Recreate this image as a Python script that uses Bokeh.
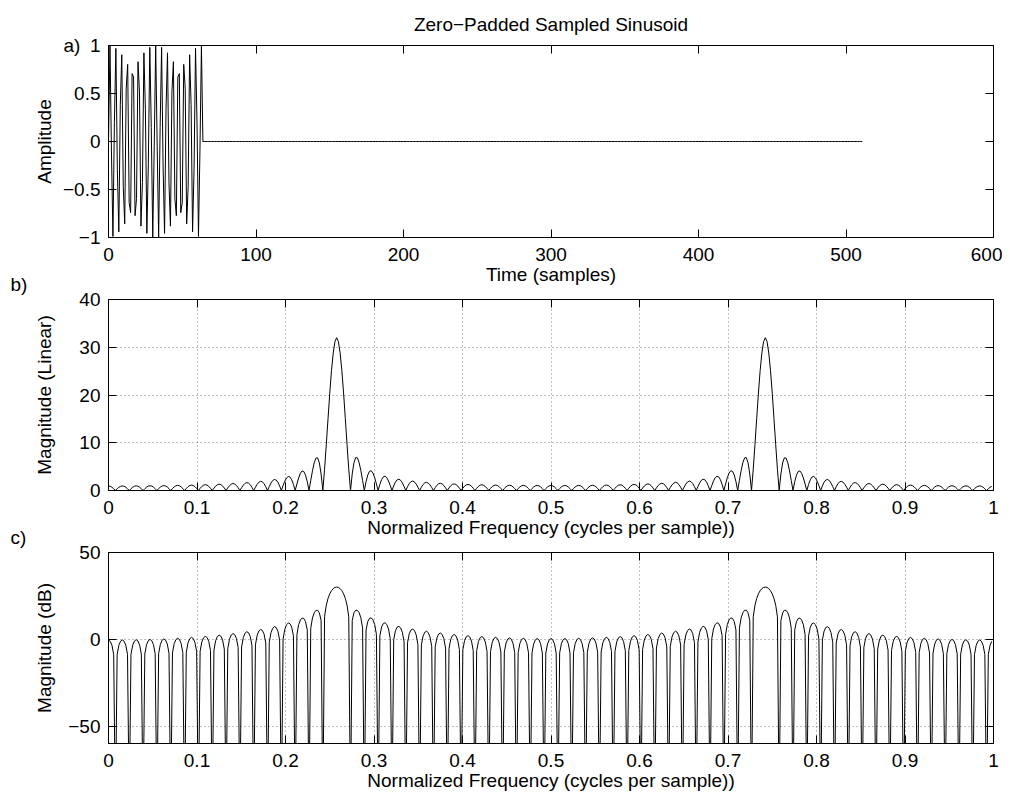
import numpy as np
from bokeh.plotting import figure
from bokeh.layouts import column
from bokeh.models import LinearAxis, Range1d, FixedTicker, CustomJSTickFormatter, CustomLabelingPolicy
from bokeh.embed import file_html
from bokeh.resources import INLINE

# ---- values ----
N_SAMPLES = 64            # non-zero samples in panel a
NFFT = 512                # total length after zero padding (line ends at 511)
SIG_FREQ = 0.2578125      # peak position in panels b/c (cycles per sample)
DB_FLOOR = -60

TIME_TICKS = [0, 100, 200, 300, 400, 500, 600]
AMP_TICKS = [-1, -0.5, 0, 0.5, 1]
FREQ_TICKS = [0, 0.1, 0.2, 0.3, 0.4, 0.5, 0.6, 0.7, 0.8, 0.9, 1]
LIN_TICKS = [0, 10, 20, 30, 40]
DB_TICKS = [-50, 0, 50]

TITLE = "Zero\u2212Padded Sampled Sinusoid"
XLABEL_A = "Time (samples)"
XLABEL_F = "Normalized Frequency (cycles per sample))"
YLABEL_A = "Amplitude"
YLABEL_B = "Magnitude (Linear)"
YLABEL_C = "Magnitude (dB)"
PANEL_TAGS = ["a)", "b)", "c)"]

# ---- signal and spectrum ----
n = np.arange(N_SAMPLES)
sig = np.concatenate([np.sin(2 * np.pi * SIG_FREQ * n), np.zeros(NFFT - N_SAMPLES)])
t = np.arange(NFFT)
spec = np.fft.fft(sig)
mag = np.abs(spec)
mag_db = 20 * np.log10(np.maximum(mag, 1e-6))
fn = np.arange(NFFT) / NFFT

FONT = "Liberation Sans"
FS = "19px"
TICK_LEN = 8
FRAME_W = 885

NO_LABELS = CustomLabelingPolicy(
    code="const all = []; for (const i of indices) all.push(i); "
         "for (const i of all) indices.unset(i); return indices;")


def make_fmt(tag=None, tag_at=None):
    if tag is None:
        code = "return (tick < 0 ? '\\u2212' : '') + Math.abs(tick).toString();"
    else:
        code = ("var s = (tick < 0 ? '\\u2212' : '') + Math.abs(tick).toString();"
                "if (tick == %s) { s = '%s\\u2002' + s; } return s;" % (tag_at, tag))
    return CustomJSTickFormatter(code=code)


def style_axis(ax, ticks, show_labels=True, fmt=None):
    ax.ticker = FixedTicker(ticks=ticks)
    ax.formatter = fmt if fmt is not None else make_fmt()
    ax.major_tick_in = TICK_LEN
    ax.major_tick_out = 0
    ax.minor_tick_line_color = None
    ax.axis_line_color = "black"
    ax.major_tick_line_color = "black"
    ax.major_label_text_font = FONT
    ax.major_label_text_color = "black"
    ax.axis_label_text_font = FONT
    ax.axis_label_text_font_size = FS
    ax.axis_label_text_font_style = "normal"
    ax.axis_label_text_color = "black"
    if show_labels:
        ax.major_label_text_font_size = FS
    else:
        ax.major_label_policy = NO_LABELS
        ax.major_label_text_font_size = "0px"
        ax.major_label_standoff = 0


def make_fig(frame_h, top, bottom, xr, yr, xt, yt, xlabel, ylabel, ylab_standoff, grid, yfmt=None):
    p = figure(frame_width=FRAME_W, frame_height=frame_h,
               x_range=Range1d(*xr), y_range=Range1d(*yr),
               output_backend="svg", toolbar_location=None,
               min_border_left=108, min_border_right=9,
               min_border_top=top, min_border_bottom=bottom)
    p.background_fill_color = "white"
    p.border_fill_color = None
    p.outline_line_color = "black"
    style_axis(p.xaxis[0], xt)
    style_axis(p.yaxis[0], yt, fmt=yfmt)
    p.xaxis[0].axis_label = xlabel
    p.yaxis[0].axis_label = ylabel
    p.xaxis[0].major_label_standoff = 10
    p.xaxis[0].axis_label_standoff = 0
    p.yaxis[0].major_label_standoff = 8
    p.yaxis[0].axis_label_standoff = ylab_standoff
    top_ax = LinearAxis()
    style_axis(top_ax, xt, show_labels=False)
    right_ax = LinearAxis()
    style_axis(right_ax, yt, show_labels=False)
    p.add_layout(top_ax, "above")
    p.add_layout(right_ax, "right")
    if grid:
        for g in (p.xgrid[0], p.ygrid[0]):
            g.grid_line_color = "black"
            g.grid_line_alpha = 0.5
            g.grid_line_dash = "1 3"
            g.grid_line_width = 1
    else:
        p.xgrid.visible = False
        p.ygrid.visible = False
    p.title.text_font = FONT
    p.title.text_font_size = FS
    p.title.text_font_style = "normal"
    p.title.text_color = "black"
    return p


# panel a (the "a)" tag sits beside the top tick label)
pa = make_fig(192, 44, 62, (0, 600), (-1, 1), TIME_TICKS, AMP_TICKS, XLABEL_A, YLABEL_A, 5, False,
              yfmt=make_fmt(PANEL_TAGS[0], AMP_TICKS[-1]))
pa.title.text = TITLE
pa.title.align = "center"
pa.title.standoff = 22
pa.line(t, sig, line_color="black", line_width=1)

# panel b (canvas overlaps the bottom margin of panel a so its tag can sit there)
pb = make_fig(191, 50, 62, (0, 1), (0, 40), FREQ_TICKS, LIN_TICKS, XLABEL_F, YLABEL_B, 21, True)
pb.title.text = PANEL_TAGS[1]
pb.title.align = "left"
pb.title.offset = -98
pb.title.standoff = 10
pb.styles = {"margin-top": "-50px"}
pb.line(fn, mag, line_color="black", line_width=1)

# panel c
pc = make_fig(191, 50, 50, (0, 1), (DB_FLOOR, 50), FREQ_TICKS, DB_TICKS, XLABEL_F, YLABEL_C, 10, True)
pc.title.text = PANEL_TAGS[2]
pc.title.align = "left"
pc.title.offset = -98
pc.title.standoff = 10
pc.styles = {"margin-top": "-50px"}
pc.line(fn, np.maximum(mag_db, DB_FLOOR - 40), line_color="black", line_width=1)

layout = column(pa, pb, pc, spacing=0)
open("out.html", "w").write(file_html(layout, INLINE))
